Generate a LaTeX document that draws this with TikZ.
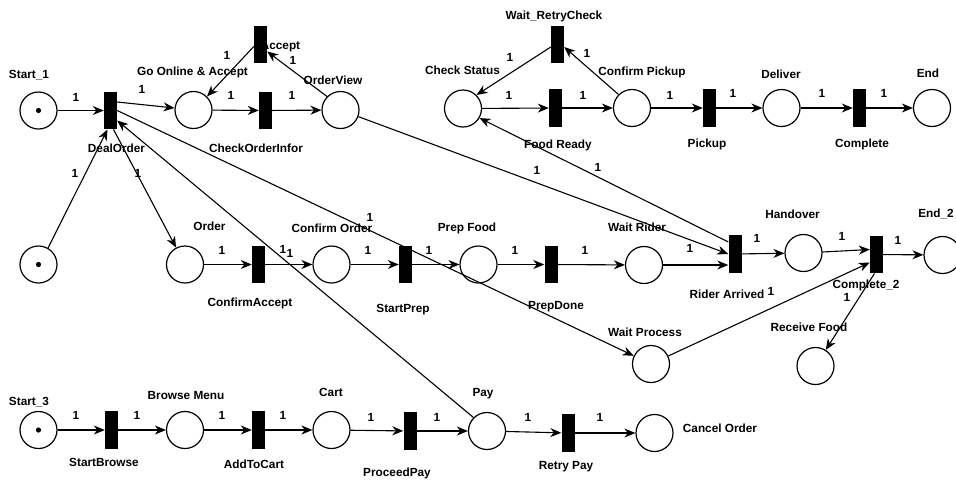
\documentclass[tikz,border=0pt]{standalone}
\usepackage{fontspec}
\setmainfont{Liberation Sans}
\usetikzlibrary{arrows.meta}
\begin{document}
\begin{tikzpicture}[x=1pt,y=-1pt,
  place/.style={circle,draw,line width=1.2pt,minimum size=37pt,inner sep=0pt},
  trans/.style={rectangle,fill=black,minimum width=13pt,minimum height=37.5pt,inner sep=0pt},
  arc/.style={draw,line width=1.1pt,-{Stealth[length=11pt,width=9pt,inset=3.5pt]}},
  txt/.style={inner sep=0pt,font=\fontsize{11.8}{13}\selectfont\bfseries},
  token/.style={fill=black}
]
\useasboundingbox (0,0) rectangle (956,480);

% label of the upper transition sits underneath its bar
\node[txt] (tAcc) at (280.5,47) {Accept};

% ---------- places ----------
\node[place] (s1)  at (38.5,110.5) {};
\node[place] (goa) at (193.5,110) {};
\node[place] (ov)  at (340.5,110) {};
\node[place] (cs)  at (463,108.5) {};
\node[place] (cp)  at (632,108) {};
\node[place] (dl)  at (781.5,108) {};
\node[place] (en)  at (932,108) {};
\node[place] (s2)  at (38.5,264.5) {};
\node[place] (ord) at (185,264.5) {};
\node[place] (co)  at (331.5,264.5) {};
\node[place] (pf)  at (478.5,264.5) {};
\node[place] (wr)  at (644,265) {};
\node[place] (ho)  at (803.5,253) {};
\node[place] (e2)  at (942.5,255) {};
\node[place] (wp)  at (651,364) {};
\node[place] (rf)  at (815.5,366) {};
\node[place] (s3)  at (38.5,430) {};
\node[place] (bm)  at (185,430) {};
\node[place] (ca)  at (331.5,430) {};
\node[place] (pay) at (487,431) {};
\node[place] (cn)  at (654.5,433) {};

% tokens
\fill[token] (s1) circle (2.6);
\fill[token] (s2) circle (2.6);
\fill[token] (s3) circle (2.6);

% ---------- transitions ----------
\node[trans] (deal) at (110.5,110.5) {};
\node[trans] (acc)  at (260.5,44.5) {};
\node[trans] (coi)  at (265.5,110.5) {};
\node[trans] (wrc)  at (557.5,44.5) {};
\node[trans] (fr)   at (555.5,108) {};
\node[trans] (pk)   at (709.5,108) {};
\node[trans] (cm)   at (859.5,108) {};
\node[trans] (cfa)  at (258.5,264.5) {};
\node[trans] (sp)   at (405.5,264.5) {};
\node[trans] (pd)   at (551,264.5) {};
\node[trans] (ra)   at (735,254) {};
\node[trans] (c2)   at (876.5,254.5) {};
\node[trans] (sb)   at (111.5,430) {};
\node[trans] (atc)  at (258.5,430) {};
\node[trans] (pp)   at (410,431) {};
\node[trans] (rp)   at (568,433) {};

% ---------- arcs ----------
\draw[arc] (s1) -- (deal);
\draw[arc] ([yshift=8.5pt]deal.east) -- (goa);
\draw[arc] (goa) -- (coi);
\draw[arc] (coi) -- (ov);
\draw[arc] (ov.135) -- ([yshift=-7pt]acc.east);
\draw[arc] ([yshift=-2pt]acc.west) -- (goa.45);
\draw[arc] (ov) -- (ra.west);
\draw[arc] (deal.east) -- (wp);
\draw[arc] (pay.135) -- ([yshift=-10pt]deal.east);
\draw[arc] (s2.60) -- ([xshift=-3pt]deal.south);
\draw[arc] ([xshift=3pt]deal.south) -- (ord);

\draw[arc] (cs) -- (fr);
\draw[arc] (fr) -- (cp);
\draw[arc] (cp.135) -- ([yshift=-2.5pt]wrc.east);
\draw[arc] ([yshift=-2.5pt]wrc.west) -- (cs.45);
\draw[arc] (cp) -- (pk);
\draw[arc] (pk) -- (dl);
\draw[arc] (dl) -- (cm);
\draw[arc] (cm) -- (en);
\draw[arc] ([yshift=12pt]ra.west) -- (cs.-30);

\draw[arc] (ord) -- (cfa);
\draw[arc] (cfa) -- (co);
\draw[arc] (co) -- (sp);
\draw[arc] (sp) -- (pf);
\draw[arc] (pf) -- (pd);
\draw[arc] (pd) -- (wr);
\draw[arc] (wr) -- (wr -| ra.west);
\draw[arc] (ra) -- (ho);
\draw[arc] (ho) -- ([yshift=5pt]c2.west);
\draw[arc] (c2) -- (e2);
\draw[arc] (wp) -- ([yshift=-8pt]c2.west);
\draw[arc] ([xshift=-2pt]c2.south) -- (rf);

\draw[arc] (s3) -- (sb);
\draw[arc] (sb) -- (bm);
\draw[arc] (bm) -- (atc);
\draw[arc] (atc) -- (ca);
\draw[arc] (ca) -- (pp);
\draw[arc] (pp) -- (pay);
\draw[arc] (pay) -- (rp);
\draw[arc] (rp) -- (cn);

% ---------- names ----------
\node[txt] (tS1)  at (29,75) {Start\_1};
\node[txt] (tGoa) at (192.5,72) {Go Online \& Accept};
\node[txt] (tOv)  at (333,80) {OrderView};
\node[txt] (tDeal) at (116.5,148) {DealOrder};
\node[txt] (tCoi) at (256,148) {CheckOrderInfor};
\node[txt] (tWrc) at (554,16) {Wait\_RetryCheck};
\node[txt] (tCs)  at (462.5,70) {Check Status};
\node[txt] (tCp)  at (642,72) {Confirm Pickup};
\node[txt] (tDl)  at (781,74) {Deliver};
\node[txt] (tEn)  at (928,73) {End};
\node[txt] (tFr)  at (558,145) {Food Ready};
\node[txt] (tPk)  at (707,144) {Pickup};
\node[txt] (tCm)  at (862,144) {Complete};
\node[txt] (tOrd) at (209.5,226) {Order};
\node[txt] (tCo)  at (332,228) {Confirm Order};
\node[txt] (tPf)  at (467,228) {Prep Food};
\node[txt] (tWr)  at (637,227) {Wait Rider};
\node[txt] (tHo)  at (792.5,214) {Handover};
\node[txt] (tE2)  at (936,214) {End\_2};
\node[txt] (tCfa) at (250,303) {ConfirmAccept};
\node[txt] (tSp)  at (403,310) {StartPrep};
\node[txt] (tPd)  at (556,307) {PrepDone};
\node[txt] (tRa)  at (727,294) {Rider Arrived};
\node[txt] (tC2)  at (866,285) {Complete\_2};
\node[txt] (tRf)  at (809,327) {Receive Food};
\node[txt] (tWp)  at (645,332) {Wait Process};
\node[txt] (tS3)  at (29,402) {Start\_3};
\node[txt] (tBm)  at (186,395) {Browse Menu};
\node[txt] (tCa)  at (331,392) {Cart};
\node[txt] (tPay) at (483,394) {Pay};
\node[txt] (tSb)  at (104,462) {StartBrowse};
\node[txt] (tAtc) at (254,464) {AddToCart};
\node[txt] (tPp)  at (397,473) {ProceedPay};
\node[txt] (tRp)  at (566,467) {Retry Pay};
\node[txt] (tCn)  at (720,428) {Cancel Order};

% ---------- arc weights ----------
\foreach \p [count=\i] in {
  (76,97),(142,89),(231,95),(292,95),(227,55),(293,60),
  (510,57),(587,53),(509,95),(583,95),(670,95),(733,93),(822,93),(884,93),
  (537,170),(598,167),(75,173),(138,173),(370,217),
  (222,250),(283,249),(290,253),(368,250),(429,250),(515,250),(585,250),(690,248),
  (757,238),(842,236),(898,240),(847,297),(771,291),
  (76,415),(137,415),(222,415),(283,415),(371,417),(437,417),(528,417),(600,417)}
  \node[txt] (w\i) at \p {1};
\end{tikzpicture}
\end{document}
